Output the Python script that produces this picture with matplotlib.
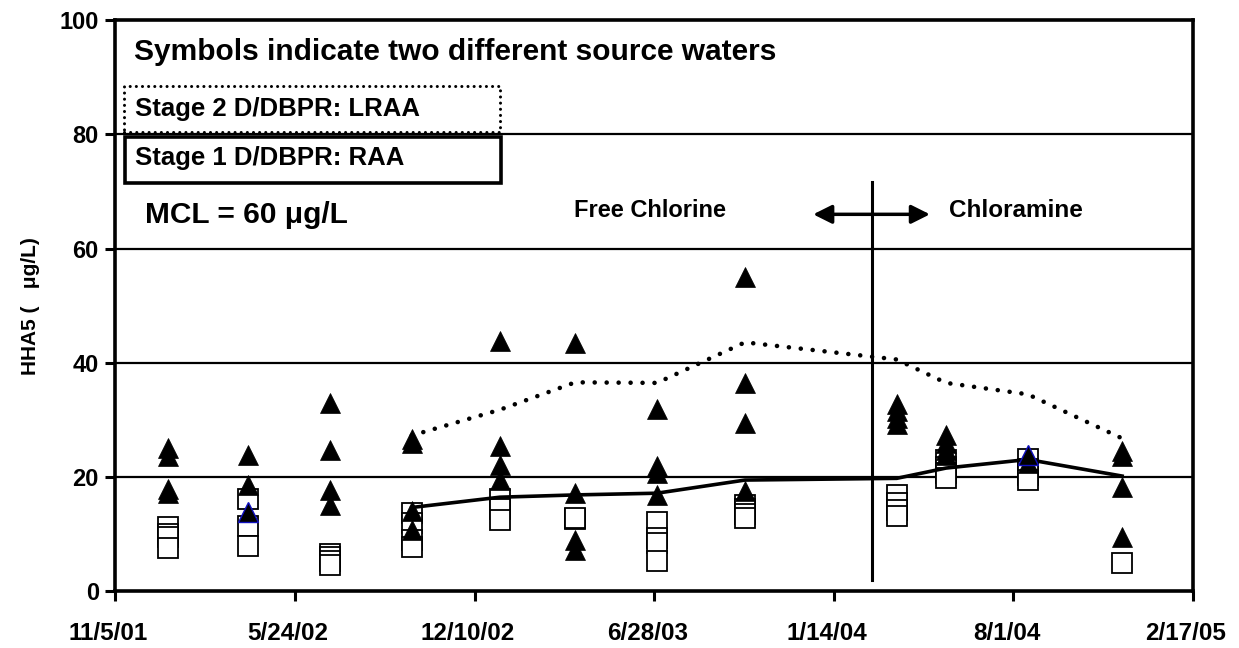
import matplotlib
matplotlib.use("Agg")
import matplotlib.pyplot as plt
import matplotlib.dates as mdates
import matplotlib.transforms as mtransforms
from matplotlib.patches import Rectangle
import datetime as dt

plt.rcParams['font.family'] = ['Liberation Sans', 'DejaVu Sans']
plt.rcParams['font.weight'] = 'bold'

# ---- data ----
sample_dates = ["2002-01-02", "2002-04-02", "2002-07-02", "2002-10-01", "2003-01-07", "2003-04-01",
                "2003-07-01", "2003-10-07", "2004-03-24", "2004-05-18", "2004-08-17", "2004-11-30"]

triangles = [
    [25.1, 23.7, 17.9, 17.2],
    [23.8, 18.7],
    [32.9, 24.8, 17.8, 15.1],
    [26.6, 25.9, 14.0, 10.8],
    [43.8, 25.5, 22.1, 19.5],
    [43.4, 17.2, 9.0, 7.2],
    [32.0, 22.0, 20.7, 16.9],
    [55.1, 36.5, 29.4, 17.5],
    [32.8, 31.5, 30.3, 29.3],
    [27.4, 26.0, 24.8, 23.9],
    [22.5],
    [24.5, 23.7, 18.3, 9.5],
]
# triangles drawn with blue edges (date index, value)
blue_triangles = [(1, 13.9), (10, 23.8)]

squares = [
    [11.2, 10.1, 9.5, 7.6],
    [16.2, 11.4, 8.0],
    [6.5, 6.0, 5.3, 4.6],
    [13.8, 12.0, 9.0, 7.7],
    [16.1, 14.5, 12.5],
    [12.6, 12.9],
    [12.2, 9.3, 8.5, 5.4],
    [15.2, 14.4, 13.6, 12.8],
    [16.9, 15.4, 14.3, 13.2],
    [23.0, 21.8, 20.8, 19.8],
    [23.1, 21.5, 20.3, 19.5],
    [5.0],
]

avg_dates = sample_dates[3:]
raa = [14.7, 16.5, 16.9, 17.2, 19.5, 19.8, 21.6, 23.1, 20.2]
lraa = [27.3, 31.8, 36.6, 36.5, 43.6, 40.6, 36.5, 34.5, 26.8]

tick_labels = ["11/5/01", "5/24/02", "12/10/02", "6/28/03", "1/14/04", "8/1/04", "2/17/05"]
yticks = [0, 20, 40, 60, 80, 100]

switch_date = "2004-02-26"
arrow_span = ("2003-12-22", "2004-04-30")

# ---- helpers ----
def d(s):
    return mdates.date2num(dt.datetime.strptime(s, "%Y-%m-%d"))

def dl(s):
    return mdates.date2num(dt.datetime.strptime(s, "%m/%d/%y"))

fig = plt.figure(figsize=(12.39, 6.48), dpi=100)
ax = fig.add_axes([0.0932, 0.0872, 0.8697, 0.8819])

xt = [dl(t) for t in tick_labels]
ax.set_xlim(xt[0], xt[-1])
ax.set_ylim(0, 100)

for g in [20, 40, 60, 80]:
    ax.axhline(g, color='black', lw=1.6, zorder=1)

# squares
sx, sy = [], []
for dd, vals in zip(sample_dates, squares):
    for v in vals:
        sx.append(d(dd)); sy.append(v)
ax.plot(sx, sy, linestyle='none', marker='s', ms=14.5, mfc='white', mec='black', mew=1.3, zorder=3)

# lines
ax.plot([d(x) for x in avg_dates], raa, color='black', lw=2.6, zorder=4, solid_joinstyle='round')
ax.plot([d(x) for x in avg_dates], lraa, color='black', lw=3.3, linestyle=(0, (0.01, 2.6)),
        dash_capstyle='round', zorder=4)

# triangles
tx, ty = [], []
for dd, vals in zip(sample_dates, triangles):
    for v in vals:
        tx.append(d(dd)); ty.append(v)
ax.plot(tx, ty, linestyle='none', marker='^', ms=15, mfc='black', mec='black', mew=0.5, zorder=5)
ax.plot([d(sample_dates[i]) for i, _ in blue_triangles], [v for _, v in blue_triangles],
        linestyle='none', marker='^', ms=15, mfc='black', mec='#1010c0', mew=1.0, zorder=5)

# vertical change line and arrow
ax.plot([d(switch_date), d(switch_date)], [2.0, 71.7], color='black', lw=2.2, zorder=4)
ax.annotate('', xy=(d(arrow_span[0]), 66.0), xytext=(d(arrow_span[1]), 66.0),
            arrowprops=dict(arrowstyle='<|-|>', color='black', lw=2.5, mutation_scale=28,
                            shrinkA=0, shrinkB=0), zorder=6)

# texts
yt = ax.get_yaxis_transform()
ax.text(0.017, 94.4, "Symbols indicate two different source waters", transform=yt,
        fontsize=21.5, fontweight='bold', va='center', ha='left')
ax.add_patch(Rectangle((0.0079, 80.4), 0.349, 8.1, transform=yt, fill=False,
                       lw=2.2, linestyle=(0, (0.01, 2.0)), capstyle='round', edgecolor='black', zorder=6))
ax.text(0.018, 84.5, "Stage 2 D/DBPR: LRAA", transform=yt,
        fontsize=18.5, fontweight='bold', va='center', ha='left')
ax.add_patch(Rectangle((0.0088, 71.5), 0.349, 8.0, transform=yt, fill=False,
                       lw=2.6, edgecolor='black', zorder=6))
ax.text(0.018, 75.9, "Stage 1 D/DBPR: RAA", transform=yt,
        fontsize=18.5, fontweight='bold', va='center', ha='left')
ax.text(0.027, 65.8, "MCL = 60 \u03bcg/L", transform=yt,
        fontsize=21.5, fontweight='bold', va='center', ha='left')
ax.text(d("2003-06-23"), 66.6, "Free Chlorine", fontsize=17, fontweight='bold', va='center', ha='center')
ax.text(d("2004-08-04"), 66.6, "Chloramine", fontsize=17.5, fontweight='bold', va='center', ha='center')

# axes styling
for s in ax.spines.values():
    s.set_linewidth(2.6)
    s.set_color('black')
ax.set_xticks(xt)
ax.set_xticklabels(tick_labels, fontsize=17.5, fontweight='bold')
ax.set_yticks(yticks)
ax.set_yticklabels([str(v) for v in yticks], fontsize=17, fontweight='bold')
ax.tick_params(axis='both', direction='out', length=7, width=2.2, color='black')
ax.tick_params(axis='x', pad=15)
ax.tick_params(axis='y', pad=5)
shift = mtransforms.ScaledTranslation(-7 / 100, 0, fig.dpi_scale_trans)
for lab in ax.get_xticklabels():
    lab.set_transform(lab.get_transform() + shift)
ax.set_ylabel("HHA5 (   \u03bcg/L)", fontsize=15, fontweight='bold', labelpad=14)

fig.savefig("out.png", dpi=100)
